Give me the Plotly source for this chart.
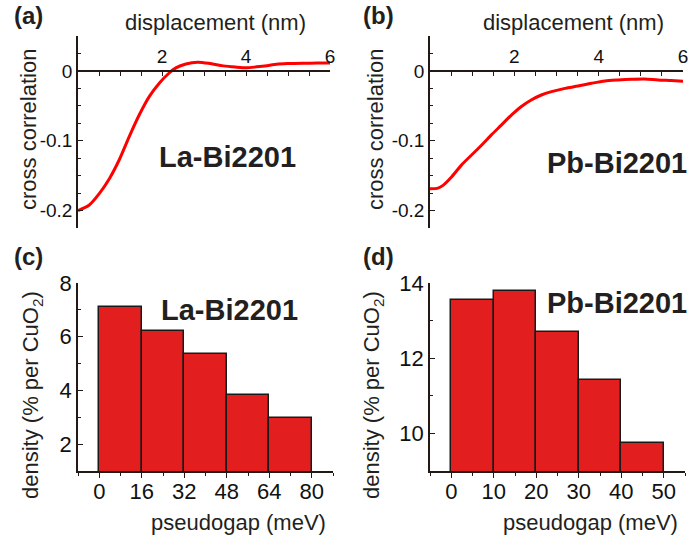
import plotly.graph_objects as go

# ---------------- data ----------------
# (a) La-Bi2201 cross correlation
disp_a = [0.0, 0.27, 0.51, 0.75, 0.98, 1.22, 1.46, 1.70, 1.94, 2.17, 2.33, 2.57, 2.85,
          3.15, 3.46, 3.75, 4.02, 4.25, 4.50, 4.73, 5.0, 5.36, 5.7, 6.0]
corr_a = [-0.2, -0.192, -0.1755, -0.154, -0.1276, -0.094, -0.0628, -0.0365, -0.0173,
          -0.003, 0.0043, 0.010, 0.0125, 0.0105, 0.0072, 0.0055, 0.0045, 0.0058, 0.0075,
          0.0096, 0.0105, 0.011, 0.0112, 0.0115]

# (b) Pb-Bi2201 cross correlation
disp_b = [0.0, 0.19, 0.31, 0.51, 0.74, 0.98, 1.22, 1.45, 1.69, 1.93, 2.16, 2.40, 2.64,
          2.88, 3.2, 3.51, 3.83, 4.15, 4.46, 4.78, 5.09, 5.41, 5.72, 6.0]
corr_b = [-0.1688, -0.1679, -0.164, -0.152, -0.1353, -0.1208, -0.1065, -0.092, -0.0777,
          -0.0633, -0.0513, -0.0417, -0.0345, -0.0297, -0.025, -0.0216, -0.0177, -0.0144,
          -0.013, -0.012, -0.0115, -0.013, -0.0139, -0.0149]

# (c) La-Bi2201 pseudogap histogram
bins_c = [0, 16, 32, 48, 64, 80]
dens_c = [7.1, 6.21, 5.36, 3.84, 2.97]

# (d) Pb-Bi2201 pseudogap histogram
bins_d = [0, 10, 20, 30, 40, 50]
dens_d = [13.54, 13.78, 12.70, 11.43, 9.74]

labels_a_y = ["-0.2", "-0.1", "0"]
ticks_a_y = [-0.2, -0.1, 0]
ticks_a_x = [2, 4, 6]

# ---------------- layout helpers ----------------
W, H = 691, 539
def px(x): return x / W
def py(y): return 1 - y / H

FONT = "Liberation Sans, Arial, sans-serif"
AX = "#231815"
RED_LINE = "#ff0000"
RED_BAR = "#e31e1e"

fig = go.Figure()

fig.add_trace(go.Scatter(x=disp_a, y=corr_a, mode="lines", xaxis="x", yaxis="y",
                         line=dict(color=RED_LINE, width=3, shape="spline", smoothing=0.8),
                         showlegend=False, hoverinfo="skip"))
fig.add_trace(go.Scatter(x=disp_b, y=corr_b, mode="lines", xaxis="x2", yaxis="y2",
                         line=dict(color=RED_LINE, width=3, shape="spline", smoothing=0.8),
                         showlegend=False, hoverinfo="skip"))

def centers(b): return [(b[i] + b[i + 1]) / 2 for i in range(len(b) - 1)]
def widths(b): return [b[i + 1] - b[i] for i in range(len(b) - 1)]

fig.add_trace(go.Bar(x=centers(bins_c), y=dens_c, width=widths(bins_c), xaxis="x3", yaxis="y3",
                     marker=dict(color=RED_BAR, line=dict(color="#1a1a1a", width=1.5)),
                     showlegend=False, hoverinfo="skip"))
fig.add_trace(go.Bar(x=centers(bins_d), y=dens_d, width=widths(bins_d), xaxis="x4", yaxis="y4",
                     marker=dict(color=RED_BAR, line=dict(color="#1a1a1a", width=1.5)),
                     showlegend=False, hoverinfo="skip"))

yr_top = [-0.225, 0.05]
top_dom_y = [py(228), py(36)]
x0_pos = top_dom_y[0] + (0 - yr_top[0]) / (yr_top[1] - yr_top[0]) * (top_dom_y[1] - top_dom_y[0])

common = dict(showgrid=False, zeroline=False, showline=True, linecolor=AX, linewidth=1.5,
              tickcolor=AX, tickwidth=1.2, automargin=False)

def top_x(dom):
    return dict(common, domain=dom, range=[0, 6], anchor="free", position=x0_pos, side="top",
                tickmode="array", tickvals=ticks_a_x, ticks="inside", ticklen=4,
                minor=dict(tick0=0, dtick=0.5, ticks="inside", ticklen=4, tickcolor=AX),
                tickfont=dict(family=FONT, size=19, color="#111"))

def top_y(xname):
    return dict(common, domain=top_dom_y, range=yr_top, anchor=xname, tickmode="array",
                tickvals=ticks_a_y, ticktext=labels_a_y, ticks="inside", ticklen=5,
                minor=dict(tick0=0, dtick=0.025, ticks="inside", ticklen=3, tickcolor=AX),
                tickfont=dict(family=FONT, size=19, color="#111"))

bot_dom_y = [py(471), py(283)]

fig.update_layout(
    template="none",
    width=W, height=H, margin=dict(l=0, r=0, t=0, b=0, pad=0), autosize=False,
    paper_bgcolor="white", plot_bgcolor="white", bargap=0,
    xaxis=top_x([px(78), px(330)]),
    yaxis=top_y("x"),
    xaxis2=top_x([px(430), px(683)]),
    yaxis2=top_y("x2"),
    xaxis3=dict(common, domain=[px(78), px(333)], range=[-8, 88], anchor="y3",
                tickmode="array", tickvals=bins_c, ticks="outside", ticklen=5,
                ticklabelstandoff=-5,
                minor=dict(tick0=0, dtick=8, ticks="outside", ticklen=3, tickcolor=AX),
                tickfont=dict(family=FONT, size=22, color="#111")),
    yaxis3=dict(common, domain=bot_dom_y, range=[1, 8], anchor="x3",
                tickmode="array", tickvals=[2, 4, 6, 8], ticks="inside", ticklen=5,
                minor=dict(tick0=0, dtick=1, ticks="inside", ticklen=3, tickcolor=AX),
                tickfont=dict(family=FONT, size=22, color="#111")),
    xaxis4=dict(common, domain=[px(430), px(685)], range=[-5, 55], anchor="y4",
                tickmode="array", tickvals=bins_d, ticks="outside", ticklen=5,
                ticklabelstandoff=-5,
                minor=dict(tick0=0, dtick=5, ticks="outside", ticklen=3, tickcolor=AX),
                tickfont=dict(family=FONT, size=22, color="#111")),
    yaxis4=dict(common, domain=bot_dom_y, range=[9, 14], anchor="x4",
                tickmode="array", tickvals=[10, 12, 14], ticks="inside", ticklen=5,
                minor=dict(tick0=9, dtick=1, ticks="inside", ticklen=3, tickcolor=AX),
                tickfont=dict(family=FONT, size=22, color="#111")),
)

def ann(text, x, y, size, bold=False, angle=0):
    fig.add_annotation(text=f"<b>{text}</b>" if bold else text, x=px(x), y=py(y),
                       xref="paper", yref="paper", showarrow=False, textangle=angle,
                       xanchor="center", yanchor="middle",
                       font=dict(family=FONT, size=size, color="#231f20"))

# panel labels
ann("(a)", 28, 15, 24, bold=True)
ann("(b)", 378, 15, 24, bold=True)
ann("(c)", 28, 256, 24, bold=True)
ann("(d)", 378, 256, 24, bold=True)

# axis titles
ann("displacement (nm)", 215, 23, 22)
ann("displacement (nm)", 573, 23, 22)
ann("cross correlation", 28, 130, 22, angle=-90)
ann("cross correlation", 375, 130, 22, angle=-90)
ann("pseudogap (meV)", 238, 522, 22)
ann("pseudogap (meV)", 590, 522, 22)
ann("density (% per CuO<sub>2</sub>)", 32, 395, 22, angle=-90)
ann("density (% per CuO<sub>2</sub>)", 373, 395, 22, angle=-90)

# sample labels
ann("La-Bi2201", 227, 157, 29, bold=True)
ann("Pb-Bi2201", 617, 163, 29, bold=True)
ann("La-Bi2201", 229, 310, 29, bold=True)
ann("Pb-Bi2201", 617, 303, 29, bold=True)

fig.write_html("out.html", config={"displayModeBar": False},
               post_script="document.body.style.margin='0px';document.body.style.padding='0px';")
